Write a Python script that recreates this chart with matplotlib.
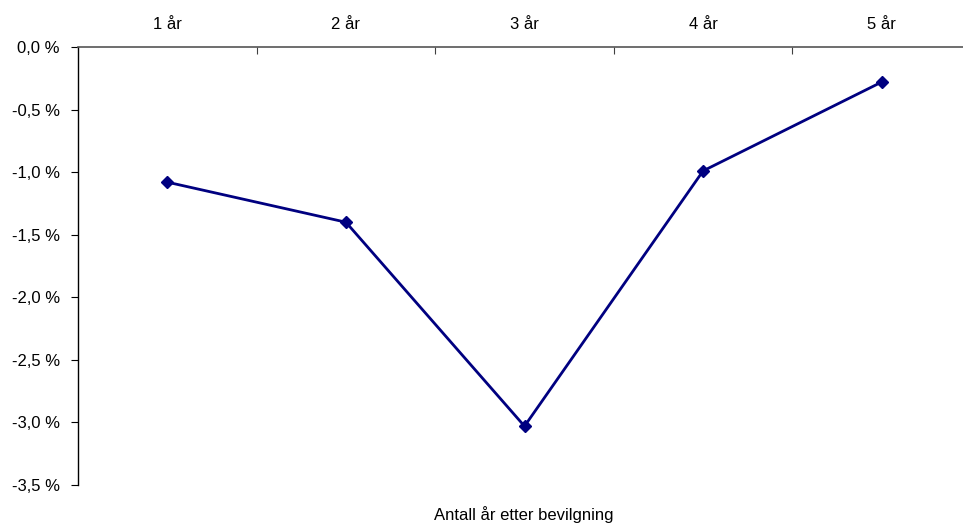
import matplotlib
matplotlib.use("Agg")
import matplotlib.pyplot as plt
from matplotlib.ticker import FuncFormatter, FixedLocator

plt.rcParams['font.family'] = ['Liberation Sans', 'DejaVu Sans']

categories = ["1 år", "2 år", "3 år", "4 år", "5 år"]
values = [-1.08, -1.40, -3.03, -0.99, -0.28]
y_ticks = [0.0, -0.5, -1.0, -1.5, -2.0, -2.5, -3.0, -3.5]

fig = plt.figure(figsize=(9.63, 5.25), dpi=100)
ax = fig.add_axes([78 / 963, 1 - 485 / 525, (971 - 78) / 963, (485 - 47) / 525])

x = list(range(len(categories)))
ax.plot(x, values, color="#000080", linewidth=2.0, marker="D", markersize=6.5,
        markerfacecolor="#000080", markeredgecolor="#000080", zorder=3)

ax.set_xlim(-0.5, len(categories) - 0.5)
ax.set_ylim(-3.5, 0.0)

# y axis
ax.yaxis.set_major_locator(FixedLocator(y_ticks))
ax.yaxis.set_major_formatter(FuncFormatter(lambda v, p: f"{v:.1f} %".replace(".", ",")))
ax.tick_params(axis="y", direction="out", length=5, width=0.8, pad=8,
               labelsize=12, colors="black")

# category axis along the top (y = 0)
ax.xaxis.tick_top()
ax.set_xticks(x)
ax.set_xticklabels(categories)
ax.set_xticks([i + 0.5 for i in range(len(categories) - 1)], minor=True)
ax.tick_params(axis="x", which="major", length=0, pad=11, labelsize=12)
ax.tick_params(axis="x", which="minor", direction="in", length=5, width=0.8,
               color="#404040", top=True, bottom=False)

for side in ("right", "bottom"):
    ax.spines[side].set_visible(False)
ax.spines["left"].set_color("black")
ax.spines["left"].set_linewidth(1.0)
ax.spines["top"].set_color("#555555")
ax.spines["top"].set_linewidth(1.2)

fig.text(524 / 963, 1 - 515 / 525, "Antall år etter bevilgning", ha="center",
         va="center", fontsize=12)

fig.savefig("out.png", dpi=100)
